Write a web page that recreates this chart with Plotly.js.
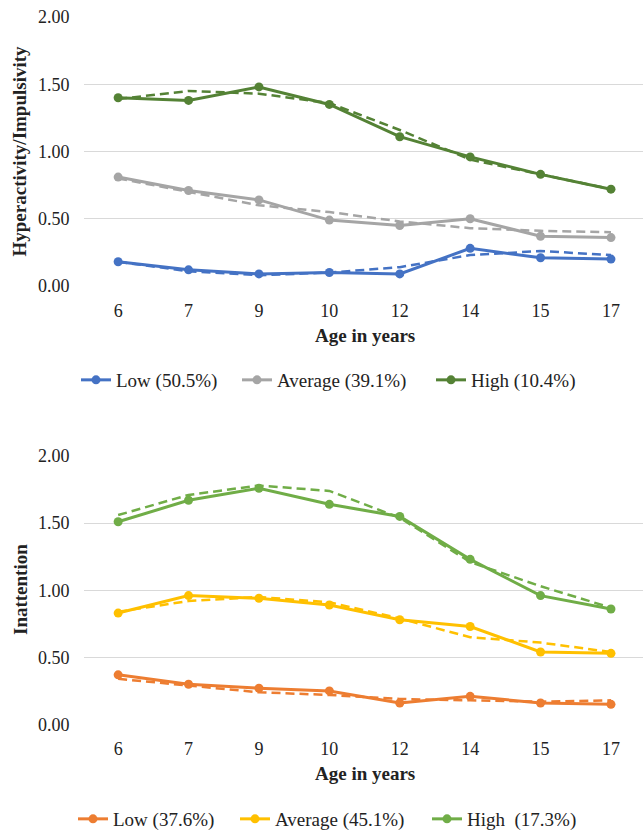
<!DOCTYPE html>
<html>
<head>
<meta charset="utf-8">
<script src="https://cdn.plot.ly/plotly-3.0.1.min.js"></script>
<style>html,body{margin:0;padding:0;background:#fff;}#chart{width:643px;height:831px;}</style>
</head>
<body>
<div id="chart"></div>
<script>
const ages = ['6', '7', '9', '10', '12', '14', '15', '17'];

// Hyperactivity/Impulsivity (observed = solid, estimated = dashed)
const hiLowObs  = [0.18, 0.12, 0.09, 0.10, 0.09, 0.28, 0.21, 0.20];
const hiLowEst  = [0.18, 0.11, 0.08, 0.10, 0.14, 0.23, 0.26, 0.23];
const hiAvgObs  = [0.81, 0.71, 0.64, 0.49, 0.45, 0.50, 0.37, 0.36];
const hiAvgEst  = [0.80, 0.70, 0.60, 0.55, 0.48, 0.43, 0.41, 0.40];
const hiHighObs = [1.40, 1.38, 1.48, 1.35, 1.11, 0.96, 0.83, 0.72];
const hiHighEst = [1.39, 1.45, 1.43, 1.36, 1.16, 0.94, 0.83, 0.72];

// Inattention
const inLowObs  = [0.37, 0.30, 0.27, 0.25, 0.16, 0.21, 0.16, 0.15];
const inLowEst  = [0.34, 0.29, 0.24, 0.22, 0.19, 0.18, 0.17, 0.18];
const inAvgObs  = [0.83, 0.96, 0.94, 0.89, 0.78, 0.73, 0.54, 0.53];
const inAvgEst  = [0.84, 0.92, 0.95, 0.91, 0.79, 0.65, 0.61, 0.54];
const inHighObs = [1.51, 1.67, 1.76, 1.64, 1.55, 1.23, 0.96, 0.86];
const inHighEst = [1.56, 1.71, 1.78, 1.74, 1.54, 1.21, 1.03, 0.87];

const topNames = ['Low (50.5%)', 'Average (39.1%)', 'High (10.4%)'];
const botNames = ['Low (37.6%)', 'Average (45.1%)', 'High  (17.3%)'];
const topColors = ['#4472C4', '#A5A5A5', '#548235'];
const botColors = ['#ED7D31', '#FFC000', '#70AD47'];

const FONT = 'Liberation Serif';
const traces = [];
function addGroup(obs, est, names, colors, xa, ya, legs) {
  for (let i = 0; i < 3; i++) {
    traces.push({x: ages, y: est[i], xaxis: xa, yaxis: ya, type: 'scatter', mode: 'lines',
      line: {color: colors[i], width: 2.5, dash: '9px,5px'}, showlegend: false, hoverinfo: 'skip'});
  }
  for (let i = 0; i < 3; i++) {
    traces.push({x: ages, y: obs[i], xaxis: xa, yaxis: ya, type: 'scatter', mode: 'lines+markers',
      name: names[i], legend: legs[i],
      line: {color: colors[i], width: 3}, marker: {color: colors[i], size: 9}});
  }
}
addGroup([hiLowObs, hiAvgObs, hiHighObs], [hiLowEst, hiAvgEst, hiHighEst], topNames, topColors, 'x', 'y',
  ['legend', 'legend2', 'legend3']);
addGroup([inLowObs, inAvgObs, inHighObs], [inLowEst, inAvgEst, inHighEst], botNames, botColors, 'x2', 'y2',
  ['legend4', 'legend5', 'legend6']);

const H = 831, W = 643;
function xax(anchor) {
  return {type: 'category', domain: [84/W, 1], range: [-0.485, 7.455], anchor: anchor,
    showgrid: false, zeroline: false, showline: false,
    ticks: 'outside', ticklen: 8, tickcolor: 'rgba(0,0,0,0)',
    tickfont: {family: FONT, size: 18, color: '#222'}};
}
function yax(anchor, top, bottom) {
  return {domain: [1 - bottom/H, 1 - top/H], range: [0, 2], anchor: anchor,
    tickvals: [0, 0.5, 1, 1.5, 2], ticktext: ['0.00', '0.50', '1.00', '1.50', '2.00'],
    showgrid: true, gridcolor: '#D9D9D9', gridwidth: 1, zeroline: false, showline: false,
    ticks: 'outside', ticklen: 10, tickcolor: 'rgba(0,0,0,0)',
    tickfont: {family: FONT, size: 18, color: '#222'}};
}
function leg(xpx, ypx) {
  return {orientation: 'h', xref: 'paper', yref: 'paper', x: (xpx - 6)/W, xanchor: 'left',
    y: 1 - ypx/H, yanchor: 'middle',
    font: {family: FONT, size: 19, color: '#222'}, bgcolor: 'rgba(0,0,0,0)', itemwidth: 30, tracegroupgap: 0};
}

const layout = {
  width: W, height: H,
  margin: {l: 0, r: 0, t: 0, b: 0, autoexpand: false},
  paper_bgcolor: '#fff', plot_bgcolor: '#fff',
  showlegend: true,
  xaxis: xax('y'), yaxis: yax('x', 17, 286),
  xaxis2: xax('y2'), yaxis2: yax('x2', 456, 724.5),
  legend: leg(82, 380), legend2: leg(243, 380), legend3: leg(437, 380),
  legend4: leg(79, 819), legend5: leg(241, 819), legend6: leg(433, 819),
  annotations: [
    {text: '<b>Age in years</b>', xref: 'paper', yref: 'paper', x: 365/W, y: 1 - 335/H, showarrow: false,
      xanchor: 'center', yanchor: 'middle', font: {family: FONT, size: 19, color: '#222'}},
    {text: '<b>Age in years</b>', xref: 'paper', yref: 'paper', x: 365/W, y: 1 - 773/H, showarrow: false,
      xanchor: 'center', yanchor: 'middle', font: {family: FONT, size: 19, color: '#222'}},
    {text: '<b>Hyperactivity/Impulsivity</b>', xref: 'paper', yref: 'paper', x: 18.5/W, y: 1 - 151/H, showarrow: false,
      textangle: -90, xanchor: 'center', yanchor: 'middle', font: {family: FONT, size: 19, color: '#222'}},
    {text: '<b>Inattention</b>', xref: 'paper', yref: 'paper', x: 20/W, y: 1 - 590/H, showarrow: false,
      textangle: -90, xanchor: 'center', yanchor: 'middle', font: {family: FONT, size: 19, color: '#222'}}
  ]
};

Plotly.newPlot('chart', traces, layout, {displayModeBar: false, staticPlot: true});
</script>
</body>
</html>
